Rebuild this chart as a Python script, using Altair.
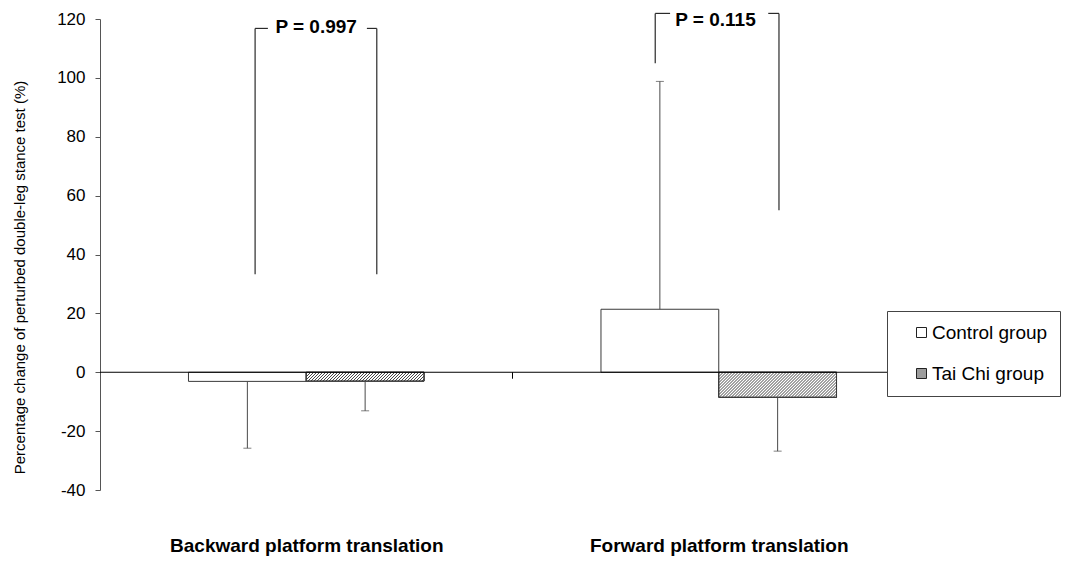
import json
import math

import altair as alt
import pandas as pd

# ---- values -------------------------------------------------------------
conditions = ["Backward platform translation", "Forward platform translation"]
groups = ["Control group", "Tai Chi group"]
# mean percentage change and SD, per condition
control_mean = [-3.1, 21.4]
control_sd = [22.7, 77.4]
taichi_mean = [-3.0, -8.5]
taichi_sd = [10.1, 18.3]

p_labels = ["P = 0.997", "P = 0.115"]
# significance brackets (x in category units, y in % units)
bracket_left = [0.376, 1.346]
bracket_right = [0.671, 1.646]
bracket_top = [116.8, 121.9]
bracket_left_bottom = [33.3, 105.0]
bracket_right_bottom = [33.3, 55.0]
bracket_gap_left = [0.407, 1.382]
bracket_gap_right = [0.647, 1.620]
p_text_x = [0.524, 1.492]
p_text_y = [117.4, 119.6]

y_ticks = [-40, -20, 0, 20, 40, 60, 80, 100, 120]

# ---- geometry -----------------------------------------------------------
PLOT_W, PLOT_H = 825, 471
X_DOMAIN = [0, 2]
Y_DOMAIN = [-40, 120]
px_x = PLOT_W / (X_DOMAIN[1] - X_DOMAIN[0])
px_y = PLOT_H / (Y_DOMAIN[1] - Y_DOMAIN[0])
BAR_W = 0.2855              # bar width in category units (gap width 150 %)
GAP = (1 - 2 * BAR_W) / 2

FONT = "Liberation Sans"
LINE = "#3a3a3a"

rows = []
for c, cond in enumerate(conditions):
    for g, (grp, means, sds) in enumerate(
        [(groups[0], control_mean, control_sd), (groups[1], taichi_mean, taichi_sd)]
    ):
        m, s = means[c], sds[c]
        x0 = c + GAP + g * BAR_W
        rows.append(
            dict(
                condition=cond,
                group=grp,
                x0=x0,
                x1=x0 + BAR_W,
                xc=x0 + BAR_W / 2,
                mean=m,
                zero=0,
                err=m + math.copysign(s, m),
            )
        )
bars = pd.DataFrame(rows)

x_enc = alt.X(
    "x0:Q",
    scale=alt.Scale(domain=X_DOMAIN, nice=False, zero=False),
    axis=alt.Axis(
        values=[0.5, 1.5],
        labelExpr=f"{json.dumps(conditions)}[floor(datum.value)]",
        domain=False,
        ticks=False,
        grid=False,
        labelFont=FONT,
        labelFontSize=19,
        labelFontWeight="bold",
        labelColor="black",
        labelPadding=46,
        labelBaseline="top",
        labelFlush=False,
        labelOverlap=False,
        labelLimit=0,
    ),
    title=None,
)
y_scale = alt.Scale(domain=Y_DOMAIN, nice=False, zero=False)
y_enc = alt.Y(
    "mean:Q",
    scale=y_scale,
    axis=alt.Axis(
        values=y_ticks,
        labelExpr="datum.value + ''",
        tickSize=5,
        tickColor="#555555",
        domainColor="#555555",
        labelFont=FONT,
        labelFontSize=17,
        labelColor="black",
        labelPadding=10,
        grid=False,
        titleFont=FONT,
        titleFontSize=15,
        titleFontWeight="normal",
        titleColor="black",
        titleX=-81,
        titleY=258,
        titleBaseline="middle",
    ),
    title="Percentage change of perturbed double-leg stance test (%)",
)

base_bars = (
    alt.Chart(bars)
    .mark_rect(stroke=LINE, strokeWidth=1)
    .encode(
        x=x_enc,
        x2="x1:Q",
        y=y_enc,
        y2="zero:Q",
        fill=alt.Fill(
            "group:N",
            scale=alt.Scale(domain=groups, range=["#ffffff", "#9c9c9c"]),
            legend=alt.Legend(
                title=None,
                orient="none",
                legendX=787,
                legendY=292,
                direction="vertical",
                strokeColor="#444444",
                fillColor="white",
                padding=12,
                symbolType="square",
                symbolSize=100,
                symbolStrokeColor="#222222",
                symbolStrokeWidth=1,
                symbolOffset=13,
                labelFont=FONT,
                labelFontSize=19,
                labelColor="black",
                labelOffset=1,
                labelLimit=0,
                labelExpr="datum.label + '\u00a0\u00a0\u00a0\u00a0\u00a0\u00a0\u00a0\u00a0'",
                rowPadding=21,
            ),
        ),
    )
)

# '/' hatching of the Tai Chi bars, as thin diagonal strokes clipped to each bar
HATCH_PERIOD = 3.0  # px between strokes, measured horizontally
hatch_rows = []
for _, r in bars[bars["group"] == groups[1]].iterrows():
    w = (r["x1"] - r["x0"]) * px_x
    top = max(r["mean"], 0)
    h = abs(r["mean"]) * px_y
    c = HATCH_PERIOD / 2
    while c < w + h:
        xa = max(0.0, c - h)
        xb = min(c, w)
        hatch_rows.append(
            dict(
                hx=r["x0"] + xa / px_x,
                hy=top - (c - xa) / px_y,
                hx2=r["x0"] + xb / px_x,
                hy2=top - (c - xb) / px_y,
            )
        )
        c += HATCH_PERIOD
hatch_df = pd.DataFrame(hatch_rows)
hatch_lines = (
    alt.Chart(hatch_df)
    .mark_rule(color="#303030", strokeWidth=0.9)
    .encode(x="hx:Q", y="hy:Q", x2="hx2:Q", y2="hy2:Q")
)
taichi_fill = (
    alt.Chart(bars)
    .transform_filter(alt.datum.group == groups[1])
    .mark_rect(fill="white", stroke=LINE, strokeWidth=1)
    .encode(x="x0:Q", x2="x1:Q", y="mean:Q", y2="zero:Q")
)
taichi_outline = (
    alt.Chart(bars)
    .transform_filter(alt.datum.group == groups[1])
    .mark_rect(fill=None, fillOpacity=0, stroke=LINE, strokeWidth=1)
    .encode(x="x0:Q", x2="x1:Q", y="mean:Q", y2="zero:Q")
)

err_rules = (
    alt.Chart(bars)
    .mark_rule(color="#4a4a4a", strokeWidth=1)
    .encode(x="xc:Q", y="mean:Q", y2="err:Q")
)
err_caps = (
    alt.Chart(bars)
    .mark_tick(orient="horizontal", size=8, thickness=1, color="#4a4a4a")
    .encode(x="xc:Q", y="err:Q")
)

# category axis crossing at zero
zero_df = pd.DataFrame({"a": [X_DOMAIN[0]], "b": [X_DOMAIN[1]], "y": [0]})
zero_line = (
    alt.Chart(zero_df)
    .mark_rule(color="black", strokeWidth=1)
    .encode(x="a:Q", x2="b:Q", y="y:Q")
)
cat_ticks_df = pd.DataFrame({"x": [1, 2], "y": [0, 0], "y2": [-2.2, -2.2]})
cat_ticks = (
    alt.Chart(cat_ticks_df)
    .mark_rule(color="black", strokeWidth=1)
    .encode(x="x:Q", y="y:Q", y2="y2:Q")
)

# significance brackets
seg = []
for i in range(len(p_labels)):
    seg += [
        dict(x=bracket_left[i], x2=bracket_left[i], y=bracket_left_bottom[i], y2=bracket_top[i]),
        dict(x=bracket_right[i], x2=bracket_right[i], y=bracket_right_bottom[i], y2=bracket_top[i]),
        dict(x=bracket_left[i], x2=bracket_gap_left[i], y=bracket_top[i], y2=bracket_top[i]),
        dict(x=bracket_gap_right[i], x2=bracket_right[i], y=bracket_top[i], y2=bracket_top[i]),
    ]
seg_df = pd.DataFrame(seg)
brackets = (
    alt.Chart(seg_df)
    .mark_rule(color="#2a2a2a", strokeWidth=1.2)
    .encode(x="x:Q", x2="x2:Q", y="y:Q", y2="y2:Q")
)
p_df = pd.DataFrame({"x": p_text_x, "y": p_text_y, "label": p_labels})
p_text = (
    alt.Chart(p_df)
    .mark_text(
        font=FONT, fontSize=19, fontWeight="bold", color="black",
        align="center", baseline="middle",
    )
    .encode(x="x:Q", y="y:Q", text="label:N")
)

chart = (
    alt.layer(
        base_bars, taichi_fill, hatch_lines, taichi_outline, zero_line, cat_ticks,
        err_rules, err_caps, brackets, p_text,
    )
    .properties(
        width=PLOT_W,
        height=PLOT_H,
        autosize=alt.AutoSizeParams(type="none"),
        padding={"left": 100, "top": 19, "right": 146, "bottom": 71},
        background="white",
    )
    .configure_view(stroke=None)
)

chart.save("out.html", embed_options={"renderer": "svg", "actions": False})
